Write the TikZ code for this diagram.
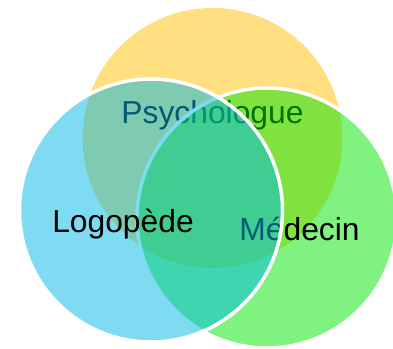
\documentclass[tikz,border=0pt]{standalone}
\usepackage{fontspec}
\setmainfont{Liberation Sans}
\definecolor{cyellow}{RGB}{255,192,0}
\definecolor{cgreen}{RGB}{0,230,0}
\definecolor{cblue}{RGB}{0,184,228}
\tikzset{
  lbl/.style={anchor=base, font=\fontsize{31.8}{32}\selectfont, text=black, inner sep=0pt},
  vennline/.style={draw=white, line width=3.5pt}
}
\begin{document}
\begin{tikzpicture}[x=1pt,y=-1pt]
\useasboundingbox (0,0) rectangle (393,348);
\clip (0,0) rectangle (393,348);
\fill[cyellow, fill opacity=0.5] (212.5,138) circle (130);
\node[lbl] (psy) at (212.5,123) {Psychologue};
\draw[fill=cgreen, fill opacity=0.5, vennline] (267,218) circle (130);
\node[lbl] (med) at (299.5,240.5) {Médecin};
\draw[fill=cblue, fill opacity=0.5, vennline] (151,210.5) circle (131.5);
\node[lbl] (logo) at (123,232) {Logopède};
\end{tikzpicture}
\end{document}
